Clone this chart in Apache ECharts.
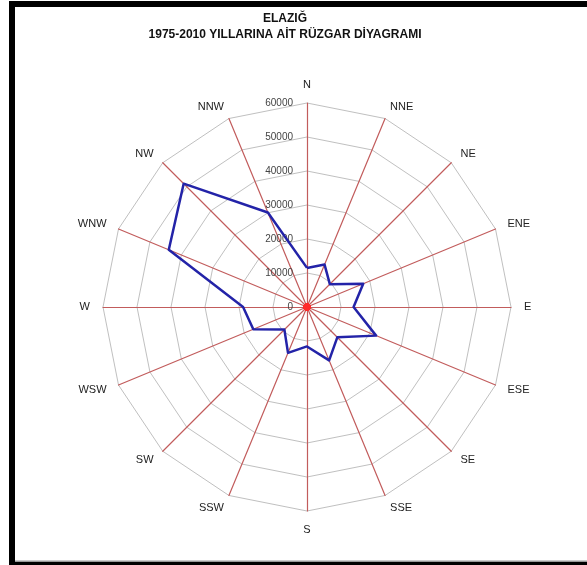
<!DOCTYPE html>
<html>
<head>
<meta charset="utf-8">
<script src="https://cdn.jsdelivr.net/npm/echarts@6/dist/echarts.min.js"></script>
<style>
html,body{margin:0;padding:0;background:#fff;}
#c{width:587px;height:565px;}
</style>
</head>
<body>
<div id="c"></div>
<script>
const directions = ['N','NNE','NE','ENE','E','ESE','SE','SSE','S','SSW','SW','WSW','W','WNW','NW','NNW'];
const windValues = [11500,13500,9500,17900,13700,22000,12600,17000,11600,14600,9400,17100,18800,44000,51300,30100];
const axisMax = 60000;
const titleText = 'ELAZIĞ\n1975-2010 YILLARINA AİT RÜZGAR DİYAGRAMI';

// ECharts radar runs counter-clockwise; reorder so directions go clockwise on screen
const order = directions.map((d, i) => (directions.length - i) % directions.length);
const indicator = order.map((k, j) => {
  const o = {name: directions[k], max: axisMax, min: 0};
  if (j === 0) o.axisLabel = {show: true};
  return o;
});
const orderedValues = order.map(k => windValues[k]);

const chart = echarts.init(document.getElementById('c'), null, {renderer:'canvas'});
chart.setOption({
  animation: false,
  backgroundColor: '#fff',
  title: {
    text: titleText,
    left: 280, top: 6, textAlign: 'center',
    textStyle: {fontFamily: 'Liberation Sans, Arial', fontSize: 12, fontWeight: 'bold', color: '#111', lineHeight: 16}
  },
  graphic: [
    {type: 'rect', shape: {x: 9, y: 1, width: 600, height: 6}, style: {fill: '#000'}},
    {type: 'rect', shape: {x: 9, y: 1, width: 6, height: 564}, style: {fill: '#000'}},
    {type: 'rect', shape: {x: 9, y: 562, width: 600, height: 4}, style: {fill: '#000'}},
    {type: 'rect', shape: {x: 15, y: 560.5, width: 600, height: 1.5}, style: {fill: '#999'}}
  ],
  radar: {
    center: [307, 307],
    radius: 204,
    shape: 'polygon',
    splitNumber: 6,
    startAngle: 90,
    indicator: indicator,
    nameGap: 13,
    axisName: {color: '#222', fontFamily: 'Liberation Sans, Arial', fontSize: 11},
    axisLine: {lineStyle: {color: '#c25c5c', width: 1.2}},
    splitLine: {lineStyle: {color: '#c0c0c0', width: 1}},
    splitArea: {show: false},
    axisTick: {show: false},
    axisLabel: {
      show: false, color: '#444', fontFamily: 'Liberation Sans, Arial', fontSize: 10,
      align: 'right', margin: 14,
      formatter: v => String(v)
    }
  },
  series: [
    {
      type: 'radar',
      symbol: 'none',
      lineStyle: {color: '#2323a8', width: 2.5},
      data: [{value: orderedValues}]
    },
    {
      type: 'radar',
      symbol: 'circle',
      symbolSize: 7,
      silent: true,
      itemStyle: {color: '#ff2a2a'},
      lineStyle: {width: 0, opacity: 0},
      data: [{value: order.map(() => 0)}]
    }
  ]
});
</script>
</body>
</html>
